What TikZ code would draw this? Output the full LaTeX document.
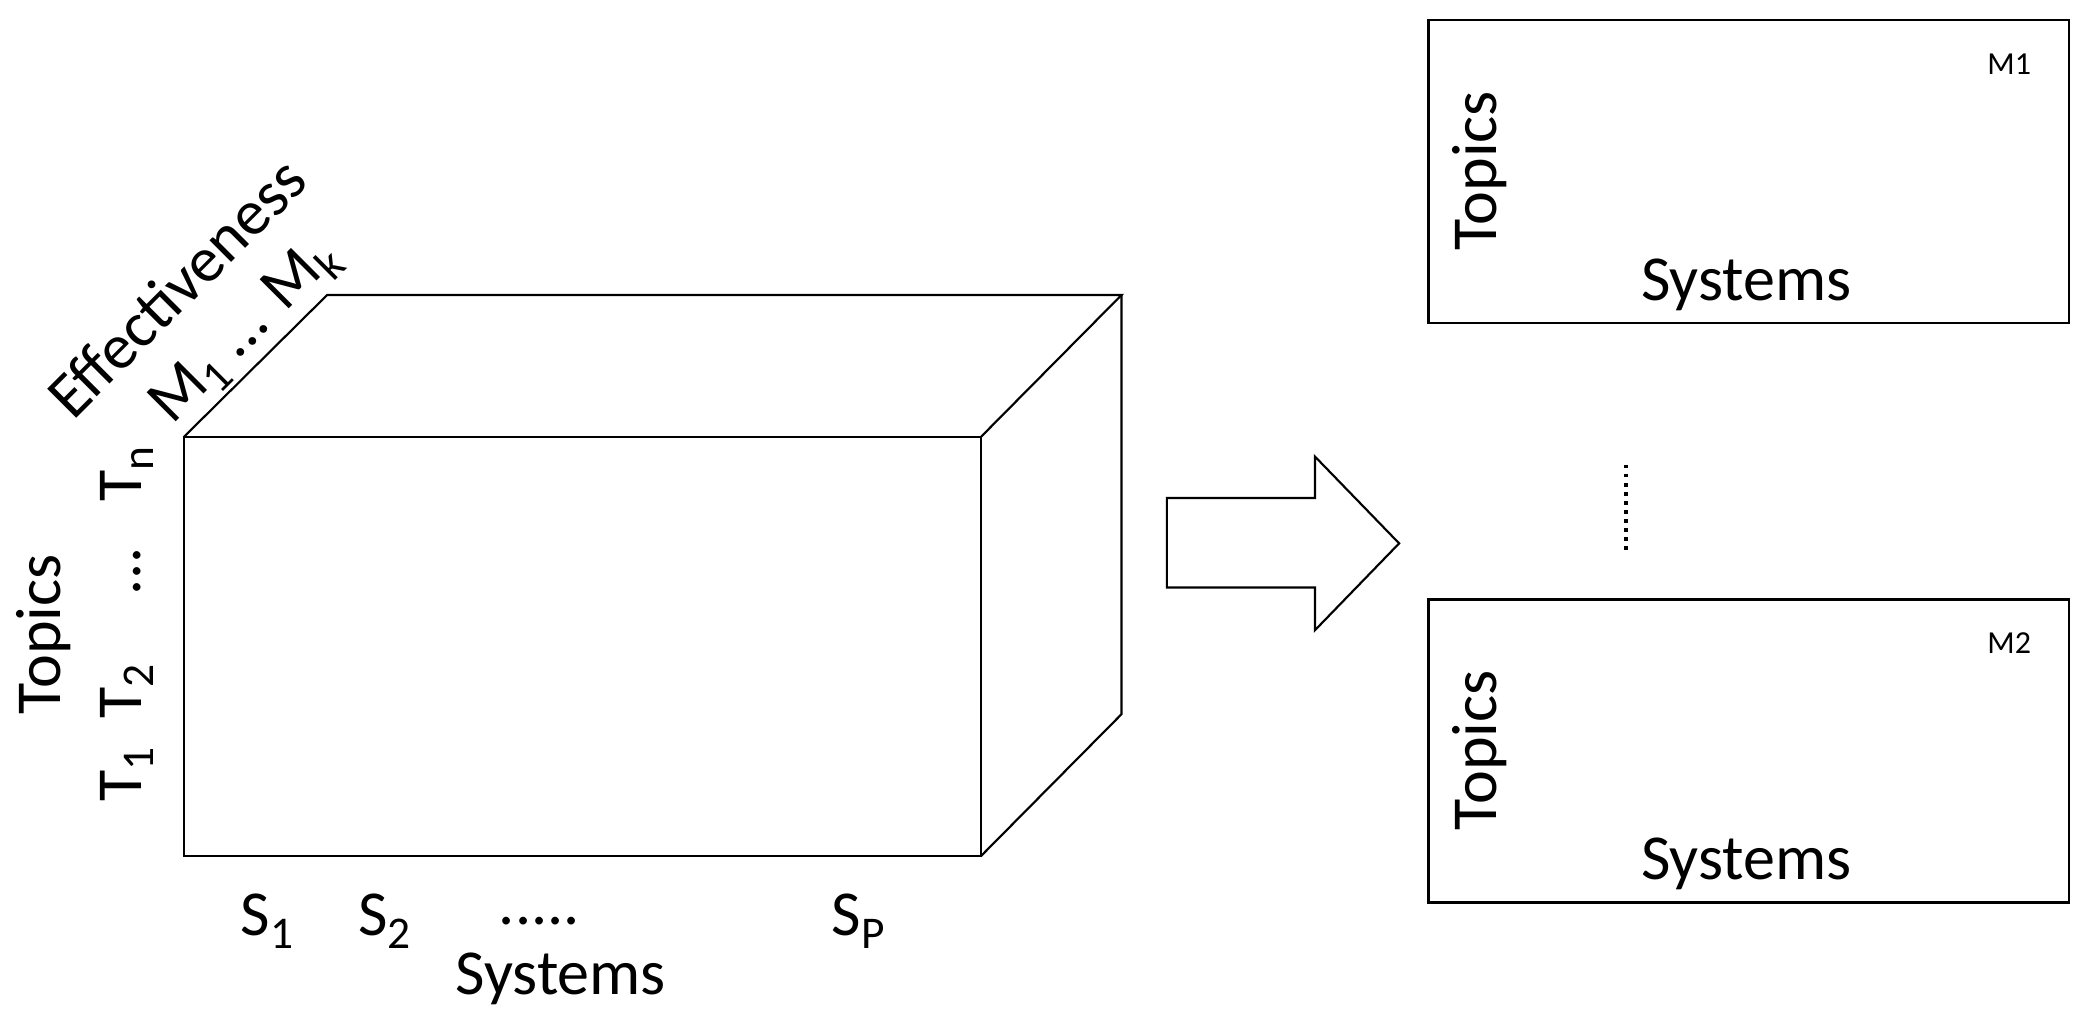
\documentclass[tikz,border=0pt]{standalone}
\usepackage{fontspec}
\setmainfont{Carlito}
\newcommand{\lowsub}[1]{\raisebox{-0.4ex}{\fontsize{17}{17}\selectfont #1}}
\begin{document}
\begin{tikzpicture}[x=0.5pt,y=-0.5pt,
  lbl/.style={inner sep=0pt,font=\fontsize{24}{26}\selectfont},
  sml/.style={inner sep=0pt,font=\fontsize{12}{13}\selectfont},
  edge/.style={draw=black,line width=0.8pt}]
\useasboundingbox (0,0) rectangle (1564,773);
% cube
\coordinate (a) at (138,327); \coordinate (b) at (735,327);
\coordinate (c) at (735,641); \coordinate (d) at (138,641);
\coordinate (a2) at (245,221); \coordinate (b2) at (840,221);
\coordinate (c2) at (840,535);
\draw[edge] (a) -- (b) -- (c) -- (d) -- cycle;
\draw[edge] (a) -- (a2) -- (b2) -- (b);
\draw[edge] (b2) -- (c2) -- (c);
% arrow
\draw[edge] (874,373) -- (985,373) -- (985,342) -- (1048,407) -- (985,472) -- (985,440) -- (874,440) -- cycle;
% boxes
\node[edge,minimum width=240pt,minimum height=113.5pt,inner sep=0pt] (m1) at (1310,128.5) {};
\node[edge,minimum width=240pt,minimum height=113.5pt,inner sep=0pt] (m2) at (1310,562.5) {};
\node[lbl,rotate=90] (t1) at (1108,128) {Topics};
\node[lbl] (s1) at (1308,213) {Systems};
\node[sml] (n1) at (1505,48) {M1};
\node[lbl,rotate=90] (t2) at (1108,562) {Topics};
\node[lbl] (s2) at (1308,647) {Systems};
\node[sml] (n2) at (1505,482) {M2};
\coordinate (d1) at (1218,348); \coordinate (d2) at (1218,415);
\draw[line width=1.4pt,dotted] (d1) -- (d2);
% left labels
\node[lbl,rotate=90] (tp) at (33,475) {Topics};
\node[lbl,rotate=90] (tt1) at (95,580) {T\lowsub{1}};
\node[lbl,rotate=90] (tt2) at (95,518) {T\lowsub{2}};
\node[lbl,rotate=90] (tdd) at (103,428) {...};
\node[lbl,rotate=90] (ttn) at (95,355) {T\lowsub{n}};
\node[lbl,rotate=45] (eff) at (132,215) {Effectiveness};
\node[lbl,rotate=45] (mm) at (184,249) {M\lowsub{1} ... M\lowsub{k}};
% bottom labels
\node[lbl] (sa) at (200,690) {S\lowsub{1}};
\node[lbl] (sb) at (288,690) {S\lowsub{2}};
\node[lbl] (sd) at (404,690) {.....};
\node[lbl] (sp) at (643,690) {S\lowsub{P}};
\node[lbl] (sy) at (420,733) {Systems};
\end{tikzpicture}
\end{document}
